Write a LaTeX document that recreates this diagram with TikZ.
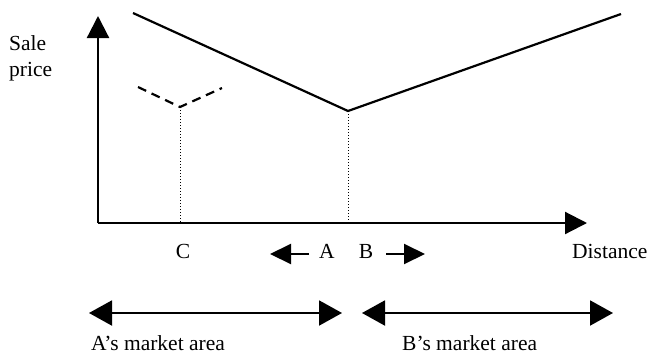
\documentclass[tikz,border=0pt]{standalone}
\usepackage{fontspec}
\setmainfont{Liberation Serif}
\usetikzlibrary{arrows.meta}

\tikzset{
  axis/.style={line width=2.2pt, -{Triangle[length=22pt,width=22pt]}},
  curve/.style={line width=2.2pt, line join=miter},
  rival/.style={line width=2.2pt, dash pattern=on 9pt off 6pt},
  drop/.style={line width=1pt, dotted},
  shift arrow/.style={line width=2pt, -{Triangle[length=21pt,width=20pt]}},
  area/.style={line width=2pt, {Triangle[length=23pt,width=25pt]}-{Triangle[length=23pt,width=25pt]}},
  lbl/.style={font=\fontsize{21.5}{26}\selectfont, inner sep=0pt},
}

\begin{document}
\begin{tikzpicture}[x=1pt, y=-1pt]
  \useasboundingbox (0,0) rectangle (649,357);

  % axes
  \coordinate (origin) at (98,223);
  \coordinate (ytop) at (98,16);
  \coordinate (xend) at (587,223);
  \draw[axis] (origin) -- (ytop);
  \draw[axis] (origin) -- (xend);

  % delivered price schedule of A and B
  \coordinate (pA) at (133,13);
  \coordinate (vAB) at (348,111);
  \coordinate (pB) at (621,14);
  \draw[curve] (pA) -- (vAB) -- (pB);

  % rival firm C
  \coordinate (cL) at (138,87);
  \coordinate (vC) at (180,107);
  \coordinate (cR) at (222,88);
  \draw[rival] (cL) -- (vC) -- (cR);

  % boundaries dropped to the distance axis
  \coordinate (fC) at (180,223);
  \coordinate (fAB) at (348,223);
  \draw[drop] (vC) -- (fC);
  \draw[drop] (vAB) -- (fAB);

  % axis labels
  \node[lbl, anchor=base west, align=left] (ylab) at (9,76) {Sale\\price};
  \node[lbl, anchor=base west] (xlab) at (572,258) {Distance};

  % locations
  \node[lbl, anchor=base] (C) at (183,258) {C};
  \node[lbl, anchor=base] (A) at (327,258) {A};
  \node[lbl, anchor=base] (B) at (366,258) {B};

  % shifts of the locations
  \coordinate (aTail) at (309,254);
  \coordinate (aTip) at (270,254);
  \coordinate (bTail) at (386,254);
  \coordinate (bTip) at (425,254);
  \draw[shift arrow] (aTail) -- (aTip);
  \draw[shift arrow] (bTail) -- (bTip);

  % market areas
  \coordinate (mA1) at (89,313);
  \coordinate (mA2) at (342,313);
  \coordinate (mB1) at (362,313);
  \coordinate (mB2) at (613,313);
  \draw[area] (mA1) -- (mA2);
  \draw[area] (mB1) -- (mB2);

  \node[lbl, anchor=base west] (areaA) at (91,350) {A’s market area};
  \node[lbl, anchor=base west] (areaB) at (402,350) {B’s market area};
\end{tikzpicture}
\end{document}
